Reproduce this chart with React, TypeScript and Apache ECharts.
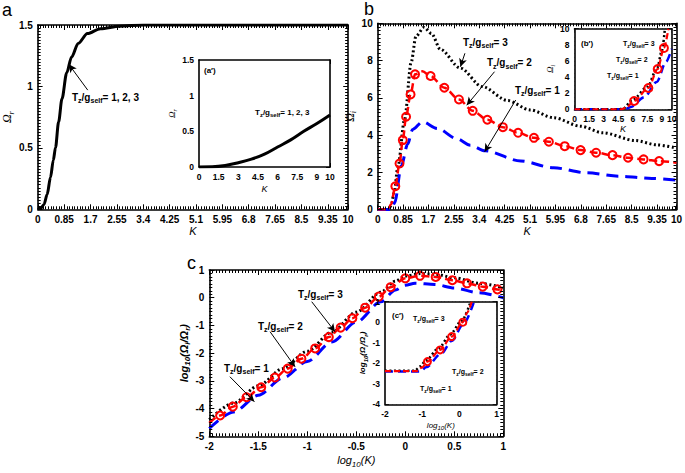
import React, { useEffect, useRef } from 'react';
import * as echarts from 'echarts';

const FONT = '"Liberation Sans Narrow", "Liberation Sans", Arial, sans-serif';
const SERIF = '"Liberation Serif", "DejaVu Serif", serif';

// ---------- Panel a : Omega_r vs K ----------
const aK = [0, 0.1, 0.2, 0.3, 0.41, 0.5, 0.57, 0.67, 0.78, 0.93, 1.09, 1.3, 1.6, 2.02, 2.64, 3.4, 10];
const aOmegaR = [0, 0.01, 0.04, 0.12, 0.26, 0.4, 0.5, 0.71, 0.9, 1.11, 1.24, 1.35, 1.43, 1.47, 1.49, 1.5, 1.5];
// inset a'
const aInsetK = [0, 1, 2, 3, 4, 5, 6, 7, 8, 9, 10];
const aInsetOmegaR = [0, 0.002, 0.02, 0.06, 0.11, 0.18, 0.28, 0.38, 0.5, 0.61, 0.73];

// ---------- Panel b : Omega_i vs K ----------
const bK3 = [0, 0.35, 0.45, 0.55, 0.68, 0.9, 1.12, 1.28, 1.55, 1.8, 2.1, 2.76, 3.5, 4.35, 5.1, 5.89, 6.8, 7.53, 8.63, 9.35, 10];
const bOmegaI3 = [0, 0, 0.2, 0.9, 2.33, 4.84, 7.9, 9.3, 9.78, 9.45, 8.6, 7.6, 6.6, 5.85, 5.35, 4.93, 4.47, 4.12, 3.7, 3.47, 3.3];
const bK2 = [0, 0.35, 0.45, 0.59, 0.73, 0.84, 0.95, 1.1, 1.25, 1.5, 1.77, 2.23, 2.72, 3.18, 3.67, 4.19, 4.7, 5.23, 5.73, 6.26, 6.79, 7.31, 7.86, 8.38, 8.9, 9.42, 10];
const bOmegaI2 = [0, 0, 0.3, 1.25, 2.47, 3.73, 4.98, 6.18, 7.26, 7.42, 7.17, 6.54, 5.91, 5.3, 4.82, 4.42, 4.12, 3.85, 3.64, 3.4, 3.19, 3.05, 2.92, 2.78, 2.69, 2.6, 2.51];
const bMark2 = [0, 0, 0, 1, 1, 1, 1, 1, 1, 0, 1, 1, 1, 1, 1, 1, 1, 1, 1, 1, 1, 1, 1, 1, 1, 1, 0];
const bK1 = [0, 0.45, 0.57, 0.79, 1.0, 1.17, 1.5, 2.0, 2.65, 3.1, 3.6, 4.79, 5.89, 6.98, 8.08, 9.18, 10];
const bOmegaI1 = [0, 0, 0.36, 2.33, 3.5, 4.3, 4.71, 4.35, 3.8, 3.45, 3.15, 2.6, 2.24, 1.97, 1.79, 1.67, 1.58];
// inset b'
const bInsetK3 = [0, 4.5, 5.0, 6, 7.5, 8.5, 9, 9.3];
const bInsetOmegaI3 = [0, 0, 0.1, 1.2, 2.8, 5.1, 7.3, 10];
const bInsetK2 = [0, 4.8, 5.3, 6.13, 7.6, 8.56, 9.2, 9.66];
const bInsetOmegaI2 = [0, 0, 0.2, 1.03, 2.64, 5.0, 7.6, 10];
const bInsetMark2 = [0, 0, 0, 1, 1, 1, 1, 0];
const bInsetK1 = [0, 5.2, 5.8, 7.19, 8.46, 9.42, 10];
const bInsetOmegaI1 = [0, 0, 0.3, 1.5, 3.4, 5.9, 7.5];

// ---------- Panel c : log10(Omega_i/Omega_r) vs log10(K) ----------
const cLogK3 = [-2, -1.75, -1.5, -1.25, -1, -0.75, -0.5, -0.25, -0.1, 0, 0.15, 0.3, 0.5, 0.75, 1];
const cLogRatio3 = [-4.4, -3.8, -3.18, -2.56, -1.93, -1.24, -0.52, 0.2, 0.6, 0.78, 0.87, 0.85, 0.72, 0.52, 0.36];
const cLogK2 = [-2, -1.89, -1.76, -1.62, -1.47, -1.33, -1.2, -1.06, -0.92, -0.78, -0.66, -0.54, -0.41, -0.27, -0.15, 0, 0.15, 0.31, 0.48, 0.63, 0.79, 0.94, 1];
const cLogRatio2 = [-4.52, -4.25, -3.93, -3.59, -3.23, -2.88, -2.56, -2.2, -1.83, -1.42, -1.08, -0.74, -0.36, 0.04, 0.38, 0.7, 0.79, 0.75, 0.63, 0.52, 0.4, 0.3, 0.26];
const cMark2 = [0, 1, 1, 1, 1, 1, 1, 1, 1, 1, 1, 1, 1, 1, 1, 1, 1, 1, 1, 1, 1, 1, 0];
const cLogK1 = [-2, -1.75, -1.5, -1.25, -1, -0.75, -0.5, -0.25, -0.1, 0, 0.1, 0.3, 0.5, 0.75, 1];
const cLogRatio1 = [-4.72, -4.12, -3.52, -2.9, -2.3, -1.6, -0.88, -0.15, 0.28, 0.45, 0.52, 0.48, 0.35, 0.18, 0.0];
// inset c'
const cInsetLogK3 = [-2, -1.2, -1.05, -0.9, -0.55, -0.25, 0.05, 0.3];
const cInsetLogRatio3 = [-2.36, -2.36, -2.15, -1.85, -1.25, -0.6, 0.05, 1.0];
const cInsetLogK2 = [-2, -1.15, -1.0, -0.86, -0.52, -0.21, 0.09, 0.2, 0.33];
const cInsetLogRatio2 = [-2.38, -2.38, -2.2, -1.92, -1.35, -0.7, 0.0, 0.45, 1.0];
const cInsetMark2 = [0, 0, 0, 1, 1, 1, 1, 0, 0];
const cInsetLogK1 = [-2, -1.05, -0.9, -0.5, -0.2, 0.1, 0.39];
const cInsetLogRatio1 = [-2.4, -2.4, -2.2, -1.55, -0.9, -0.1, 1.0];

// ---------- annotation arrows (data coords: fromX, fromY, toX, toY) ----------
const aArrows = [[1.61, 0.97, 1.0, 1.18]];
const aInsetArrows = [[4.73, 0.67, 6.03, 0.29]];
const bArrows = [[2.92, 8.39, 2.77, 7.67], [3.91, 7.4, 2.98, 5.6], [4.62, 5.88, 3.58, 3.1]];
const bInsetArrows = [[7.0, 7.52, 8.51, 6.36], [5.88, 5.66, 7.94, 3.38], [4.86, 3.8, 6.91, 1.53]];
const cArrows = [[-0.955, -0.144, -0.717, -1.226], [-1.38, -1.226, -1.125, -2.49], [-1.79, -2.85, -1.54, -3.75]];
const cInsetArrows = [[-0.746, -0.087, -0.255, -0.95], [-0.031, -2.17, 0.033, -0.38], [-0.746, -2.9, -0.703, -2.0]];

const fmt = (v: number) => String(parseFloat(v.toFixed(2)));

const nameRich = {
  i: { fontFamily: SERIF, fontStyle: 'italic', fontSize: 12, color: '#000', lineHeight: 16 },
  s: { fontFamily: SERIF, fontStyle: 'italic', fontSize: 8, color: '#000', verticalAlign: 'bottom' },
  si: { fontFamily: SERIF, fontStyle: 'italic', fontSize: 9, color: '#000', lineHeight: 12 },
  ss: { fontFamily: SERIF, fontStyle: 'italic', fontSize: 6, color: '#000', verticalAlign: 'bottom' },
  k: { fontFamily: FONT, fontStyle: 'italic', fontSize: 11, color: '#000' },
  ks: { fontFamily: FONT, fontStyle: 'italic', fontSize: 9, color: '#000' },
  b: { fontFamily: FONT, fontStyle: 'italic', fontWeight: 'bold', fontSize: 11, color: '#000', lineHeight: 16 },
  bs: { fontFamily: FONT, fontStyle: 'italic', fontWeight: 'bold', fontSize: 8, color: '#000', verticalAlign: 'bottom' },
  c: { fontFamily: FONT, fontStyle: 'italic', fontWeight: 'bold', fontSize: 8, color: '#000', lineHeight: 12 },
  cs: { fontFamily: FONT, fontStyle: 'italic', fontWeight: 'bold', fontSize: 6, color: '#000', verticalAlign: 'bottom' },
  x: { fontFamily: FONT, fontStyle: 'italic', fontSize: 11, color: '#000', lineHeight: 16 },
  xs: { fontFamily: FONT, fontStyle: 'italic', fontSize: 8, color: '#000', verticalAlign: 'bottom' },
  y: { fontFamily: FONT, fontStyle: 'italic', fontSize: 8, color: '#000', lineHeight: 12 },
  ys: { fontFamily: FONT, fontStyle: 'italic', fontSize: 6, color: '#000', verticalAlign: 'bottom' },
};

interface AxCfg {
  min: number; max: number; interval: number; minor: number; size: number;
  name?: string; gap?: number; inset?: boolean;
}

function baseAxis(g: number, c: AxCfg) {
  const ax: any = {
    type: 'value', gridIndex: g, min: c.min, max: c.max, interval: c.interval,
    axisLine: { show: true, onZero: false, lineStyle: { color: '#000', width: 1.6 } },
    axisTick: { show: false },
    splitLine: { show: false },
  };
  if (c.inset) ax.z = 21;
  return ax;
}
function labelCfg(size: number) {
  return { show: true, fontSize: size, fontWeight: 'bold', fontFamily: FONT, color: '#000', margin: 5, formatter: fmt };
}
function xAxes(g: number, c: AxCfg) {
  const b = baseAxis(g, c);
  return [
    { ...b, position: 'bottom', axisLabel: labelCfg(c.size), name: c.name, nameLocation: 'middle', nameGap: c.gap, nameTextStyle: { rich: nameRich } },
    { ...b, position: 'top', axisLabel: { show: false } },
  ];
}
function yAxes(g: number, c: AxCfg) {
  const b = baseAxis(g, c);
  return [
    { ...b, position: 'left', axisLabel: labelCfg(c.size), name: c.name, nameLocation: 'middle', nameRotate: 90, nameGap: c.gap, nameTextStyle: { rich: nameRich } },
    { ...b, position: 'right', axisLabel: { show: false } },
  ];
}

// tick positions (major every interval, minor subdivisions) of an axis
function tickVals(c: AxCfg) {
  const out: { v: number; major: boolean }[] = [];
  const step = c.interval / c.minor;
  const n = Math.round((c.max - c.min) / step);
  for (let i = 0; i <= n; i++) {
    const v = c.min + i * step;
    if (v > c.max + 1e-9) break;
    out.push({ v: Math.min(v, c.max), major: i % c.minor === 0 });
  }
  out.push({ v: c.max, major: true });
  return out;
}

// MATLAB-like inward ticks on all four frame sides, drawn as markLine segments in data space
function tickFrameSeries(g: number, xc: AxCfg, yc: AxCfg, gr: { width: number; height: number }, z: number) {
  const majorLen = xc.inset ? 4 : 5;
  const minorLen = xc.inset ? 2.5 : 3;
  const dxPerPx = (xc.max - xc.min) / gr.width;
  const dyPerPx = (yc.max - yc.min) / gr.height;
  const lines: any[] = [];
  for (const t of tickVals(xc)) {
    const L = (t.major ? majorLen : minorLen) * dyPerPx;
    lines.push([{ coord: [t.v, yc.min] }, { coord: [t.v, yc.min + L] }]);
    lines.push([{ coord: [t.v, yc.max] }, { coord: [t.v, yc.max - L] }]);
  }
  for (const t of tickVals(yc)) {
    const L = (t.major ? majorLen : minorLen) * dxPerPx;
    lines.push([{ coord: [xc.min, t.v] }, { coord: [xc.min + L, t.v] }]);
    lines.push([{ coord: [xc.max, t.v] }, { coord: [xc.max - L, t.v] }]);
  }
  return {
    type: 'line', xAxisIndex: 2 * g, yAxisIndex: 2 * g, z, silent: true,
    data: [[xc.min, yc.min]], showSymbol: false, symbol: 'none',
    lineStyle: { opacity: 0 },
    markLine: {
      silent: true, symbol: ['none', 'none'], label: { show: false },
      lineStyle: { color: '#000', width: 1, type: 'solid', opacity: 1 },
      emphasis: { disabled: true },
      data: lines,
    },
  };
}

const zip = (xs: number[], ys: number[]) => xs.map((x, i) => [x, ys[i]]);
const zipMarked = (xs: number[], ys: number[], m: number[]) =>
  xs.map((x, i) => ({ value: [x, ys[i]], symbol: m[i] ? 'circle' : 'none' }));

function arrowLine(arrs: number[][]) {
  return {
    silent: true,
    symbol: ['none', 'arrow'],
    symbolSize: [6, 8],
    label: { show: false },
    lineStyle: { color: '#000', width: 1, type: 'solid' },
    emphasis: { disabled: true },
    data: arrs.map((a) => [{ coord: [a[0], a[1]] }, { coord: [a[2], a[3]] }]),
  };
}

const AX = (g: number) => ({ xAxisIndex: 2 * g, yAxisIndex: 2 * g });

function blackSeries(g: number, data: any, z: number, extra: any = {}) {
  return {
    type: 'line', ...AX(g), data, z, showSymbol: false,
    smooth: 0.3, smoothMonotone: 'x',
    lineStyle: { color: '#000', width: 3, type: [2, 2.5] }, ...extra,
  };
}
function redSeries(g: number, data: any, z: number, extra: any = {}) {
  return {
    type: 'line', ...AX(g), data, z, showSymbol: true, showAllSymbol: true,
    smooth: 0.3, smoothMonotone: 'x', symbolSize: 8,
    itemStyle: { color: 'rgba(255,0,0,0)', borderColor: '#ff0000', borderWidth: 2 },
    lineStyle: { color: '#ff0000', width: 2.5, type: [8, 4] }, ...extra,
  };
}
function blueSeries(g: number, data: any, z: number, extra: any = {}) {
  return {
    type: 'line', ...AX(g), data, z, showSymbol: false,
    smooth: 0.3, smoothMonotone: 'x',
    lineStyle: { color: '#0000ff', width: 3, type: [12, 7] }, ...extra,
  };
}

const annoRich = {
  n: { fontSize: 10, fontWeight: 'bold', fontFamily: FONT, color: '#000', lineHeight: 14 },
  s: { fontSize: 7, fontWeight: 'bold', fontFamily: FONT, color: '#000', verticalAlign: 'bottom' },
  m: { fontSize: 8, fontWeight: 'bold', fontFamily: FONT, color: '#000', lineHeight: 12 },
  ms: { fontSize: 6, fontWeight: 'bold', fontFamily: FONT, color: '#000', verticalAlign: 'bottom' },
  t: { fontSize: 7, fontWeight: 'bold', fontFamily: FONT, color: '#000', lineHeight: 10 },
  ts: { fontSize: 5, fontWeight: 'bold', fontFamily: FONT, color: '#000', verticalAlign: 'bottom' },
};
const tz = (v: string, n = 'n', s = 's') => `{${n}|T}{${s}|z}{${n}|/g}{${s}|self}{${n}|= ${v}}`;
const txt = (text: string, x: number, y: number) => ({
  type: 'text', x, y, z: 100, silent: true,
  style: { text, rich: annoRich, verticalAlign: 'middle', align: 'left', fill: '#000' },
});

function buildOption() {
  const inset = { show: true, backgroundColor: '#fff', borderWidth: 0, z: 20 };
  const grid = [
    { left: 25, top: 25, width: 323, height: 184.3 },
    { left: 199, top: 60, width: 131, height: 107, ...inset },
    { left: 377.7, top: 23.3, width: 304.3, height: 186.2 },
    { left: 574.5, top: 28.7, width: 97.2, height: 80.6, ...inset },
    { left: 209.3, top: 270, width: 294, height: 166.3 },
    { left: 385, top: 301.7, width: 111.7, height: 102.6, ...inset },
  ];
  const xc: AxCfg[] = [
    { min: 0, max: 10, interval: 0.85, minor: 10, size: 10, name: '{k|K}', gap: 15 },
    { min: 0, max: 10, interval: 1.5, minor: 5, size: 8.5, name: '{ks|K}', gap: 17, inset: true },
    { min: 0, max: 10, interval: 0.85, minor: 10, size: 10, name: '{k|K}', gap: 15 },
    { min: 0, max: 10, interval: 1.5, minor: 4, size: 8.5, name: '{ks|K}', gap: 13, inset: true },
    { min: -2, max: 1, interval: 0.5, minor: 15, size: 10, name: '{x|log}{xs|10}{x|(K)}', gap: 16 },
    { min: -2, max: 1, interval: 1, minor: 10, size: 8.5, name: '{y|log}{ys|10}{y|(K)}', gap: 15, inset: true },
  ];
  const yc: AxCfg[] = [
    { min: 0, max: 1.5, interval: 0.5, minor: 20, size: 10, name: '{i|Ω}{s|r}', gap: 13 },
    { min: 0, max: 1.5, interval: 0.5, minor: 10, size: 8.5, name: '{si|Ω}{ss|r}', gap: 14, inset: true },
    { min: 0, max: 10, interval: 2, minor: 10, size: 10, name: '{i|Ω}{s|i}', gap: 10 },
    { min: 0, max: 10, interval: 2, minor: 4, size: 8.5, name: '{si|Ω}{ss|i}', gap: 9, inset: true },
    { min: -5, max: 1, interval: 1, minor: 8, size: 10, name: '{b|log}{bs|10}{b|(Ω}{bs|i}{b|/Ω}{bs|r}{b|)}', gap: 10 },
    { min: -4, max: 1, interval: 1, minor: 5, size: 8.5, name: '{c|log}{cs|10}{c|(Ω}{cs|i}{c|/Ω}{cs|r}{c|)}', gap: 8, inset: true },
  ];
  const xAxis = xc.flatMap((c, g) => xAxes(g, c));
  const yAxis = yc.flatMap((c, g) => yAxes(g, c));

  const series: any[] = [
    { type: 'line', ...AX(0), data: zip(aK, aOmegaR), showSymbol: false, smooth: 0.3, smoothMonotone: 'x', z: 2,
      lineStyle: { color: '#000', width: 3 }, markLine: arrowLine(aArrows) },
    { type: 'line', ...AX(1), data: zip(aInsetK, aInsetOmegaR), showSymbol: false, smooth: 0.4, z: 22,
      lineStyle: { color: '#000', width: 3 }, markLine: arrowLine(aInsetArrows) },
    blackSeries(2, zip(bK3, bOmegaI3), 2),
    redSeries(2, zipMarked(bK2, bOmegaI2, bMark2), 3),
    blueSeries(2, zip(bK1, bOmegaI1), 2, { markLine: arrowLine(bArrows) }),
    blueSeries(3, zip(bInsetK1, bInsetOmegaI1), 22, { lineStyle: { color: '#0000ff', width: 2.5, type: [8, 5] }, markLine: arrowLine(bInsetArrows) }),
    redSeries(3, zipMarked(bInsetK2, bInsetOmegaI2, bInsetMark2), 23, { lineStyle: { color: '#ff0000', width: 2.2, type: [6, 3] } }),
    blackSeries(3, zip(bInsetK3, bInsetOmegaI3), 22, { lineStyle: { color: '#000', width: 2.5, type: [2, 2.5] } }),
    blueSeries(4, zip(cLogK1, cLogRatio1), 2, { markLine: arrowLine(cArrows) }),
    blackSeries(4, zip(cLogK3, cLogRatio3), 2),
    redSeries(4, zipMarked(cLogK2, cLogRatio2, cMark2), 3),
    blueSeries(5, zip(cInsetLogK1, cInsetLogRatio1), 22, { lineStyle: { color: '#0000ff', width: 2.5, type: [8, 5] }, markLine: arrowLine(cInsetArrows) }),
    blackSeries(5, zip(cInsetLogK3, cInsetLogRatio3), 22, { lineStyle: { color: '#000', width: 2.5, type: [2, 2.5] } }),
    redSeries(5, zipMarked(cInsetLogK2, cInsetLogRatio2, cInsetMark2), 23, { symbolSize: 7, lineStyle: { color: '#ff0000', width: 2.2, type: [6, 3] } }),
  ];
  for (let g = 0; g < 6; g++) {
    series.push(tickFrameSeries(g, xc[g], yc[g], grid[g], g % 2 === 1 ? 24 : 4));
  }

  const letter = { font: 'normal 18px "Liberation Sans", Arial, sans-serif' };
  const graphic = [
    { type: 'text', x: 2, y: 10, z: 100, style: { text: 'a', ...letter, fill: '#000', verticalAlign: 'middle' } },
    { type: 'text', x: 364, y: 9, z: 100, style: { text: 'b', ...letter, fill: '#000', verticalAlign: 'middle' } },
    { type: 'text', x: 187, y: 263, z: 100, style: { text: 'c', ...letter, fill: '#000', verticalAlign: 'middle' } },
    txt(tz('1, 2, 3'), 72, 97),
    txt(tz('1, 2, 3', 'm', 'ms'), 255, 112),
    txt('{m|(a′)}', 204, 70),
    txt(tz('3'), 463, 42),
    txt(tz('2'), 487, 62.5),
    txt(tz('1'), 515, 90),
    txt('{m|(b′)}', 581, 43),
    txt(tz('3', 't', 'ts'), 623, 43),
    txt(tz('2', 't', 'ts'), 616, 59.5),
    txt(tz('1', 't', 'ts'), 607, 75),
    txt(tz('3'), 298, 294),
    txt(tz('2'), 258, 326),
    txt(tz('1'), 224, 368),
    txt('{m|(c′)}', 392, 315),
    txt(tz('3', 't', 'ts'), 413, 318),
    txt(tz('2', 't', 'ts'), 452, 371),
    txt(tz('1', 't', 'ts'), 420, 388),
  ];

  return { animation: false, backgroundColor: '#fff', grid, xAxis, yAxis, series, graphic };
}

export default function App() {
  const ref = useRef<HTMLDivElement>(null);
  useEffect(() => {
    if (!ref.current) return;
    const chart = echarts.init(ref.current, null, { renderer: 'svg' });
    chart.setOption(buildOption() as any);
    return () => chart.dispose();
  }, []);
  return (
    <div
      ref={ref}
      style={{ position: 'absolute', left: 0, top: 0, width: 685, height: 473, background: '#fff' }}
    />
  );
}
